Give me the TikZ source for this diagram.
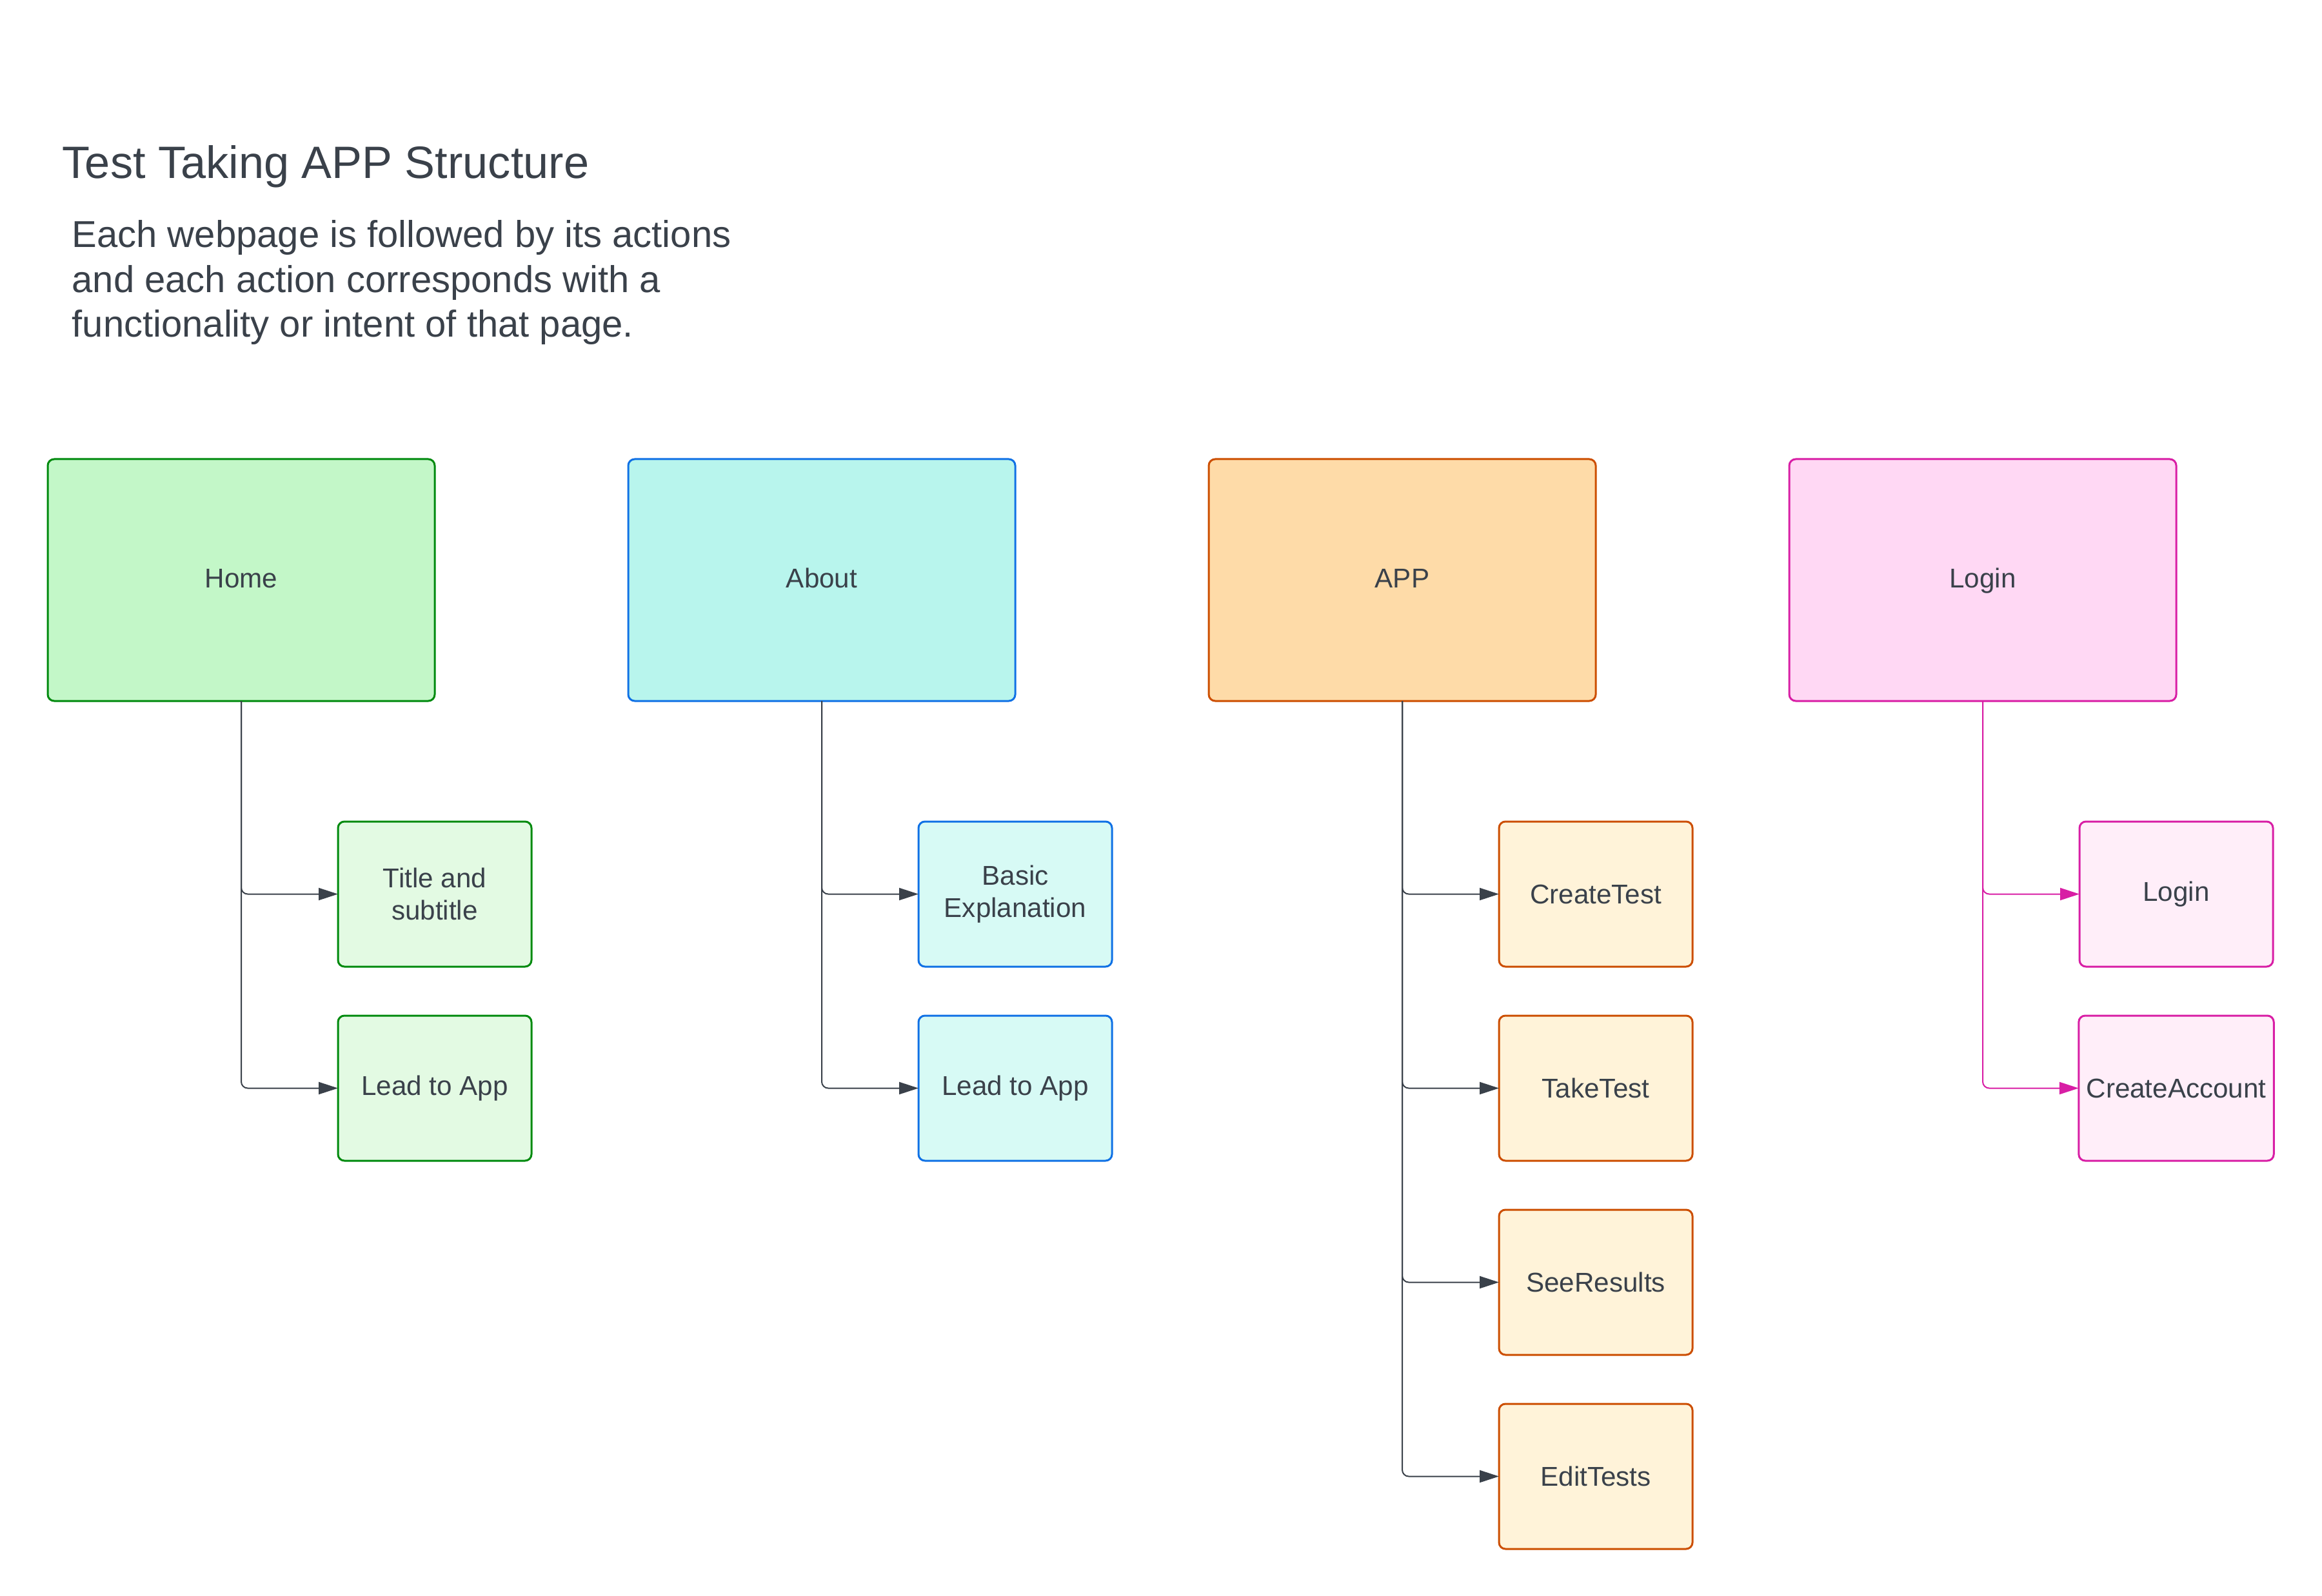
\documentclass[tikz,border=0pt]{standalone}
\usepackage{fontspec}
\setmainfont{Liberation Sans}
\usetikzlibrary{positioning,arrows.meta}

\definecolor{ink}{HTML}{3A414A}
\definecolor{homeline}{HTML}{008A0E}
\definecolor{homefill}{HTML}{C3F7C8}
\definecolor{homelight}{HTML}{E3FAE3}
\definecolor{aboutline}{HTML}{1071E5}
\definecolor{aboutfill}{HTML}{B8F5ED}
\definecolor{aboutlight}{HTML}{D7FAF5}
\definecolor{appline}{HTML}{CC4E00}
\definecolor{appfill}{HTML}{FEDBA8}
\definecolor{applight}{HTML}{FFF3D9}
\definecolor{loginline}{HTML}{D81EA5}
\definecolor{loginfill}{HTML}{FFD8F4}
\definecolor{loginlight}{HTML}{FFEEF9}

\begin{document}
\begin{tikzpicture}[
		page/.style={draw, rounded corners=0.1cm, line width=0.03cm, outer sep=0, minimum width=6cm, minimum height=3.75cm, text height=0.72em, text depth=0.02em, text=ink, font=\fontsize{12}{14.4}\selectfont},
		action/.style={draw, rounded corners=0.1cm, line width=0.03cm, outer sep=0, minimum width=3cm, minimum height=2.25cm, align=center, text=ink, font=\fontsize{12}{14.4}\selectfont},
		link/.style={-{Triangle[length=0.3cm, width=0.19cm]}, line width=0.02cm, rounded corners=0.1cm, color=ink},
		node distance=0.76cm]
			\useasboundingbox (0,0) rectangle (36,-24.75);

			\node[anchor=base west, inner sep=0, text=ink, font=\fontsize{20}{24}\selectfont] (title) at (0.96,-2.77) {Test Taking APP Structure};
			\node[anchor=base west, inner sep=0, align=left, text=ink, font=\fontsize{16.5}{19.8}\selectfont] (intro) at (1.11,-5.23) {Each webpage is followed by its actions\\and each action corresponds with a\\functionality or intent of that page.};

			% web pages
			\node[page, fill=homefill, draw=homeline] (home) at (3.74,-8.995) {Home};
			\node[page, fill=aboutfill, draw=aboutline, right=3cm of home] (about) {About};
			\node[page, fill=appfill, draw=appline, right=3cm of about] (app) {APP};
			\node[page, fill=loginfill, draw=loginline, right=3cm of app] (login) {Login};

			% actions
			\node[action, fill=homelight, draw=homeline, below=1.87cm of home.south east] (home1) {Title and\\subtitle};
			\node[action, fill=homelight, draw=homeline, below=of home1] (home2) {Lead to App};

			\node[action, fill=aboutlight, draw=aboutline, below=1.87cm of about.south east] (about1) {Basic\\Explanation};
			\node[action, fill=aboutlight, draw=aboutline, below=of about1] (about2) {Lead to App};

			\node[action, fill=applight, draw=appline, below=1.87cm of app.south east] (app1) {CreateTest};
			\node[action, fill=applight, draw=appline, below=of app1] (app2) {TakeTest};
			\node[action, fill=applight, draw=appline, below=of app2] (app3) {SeeResults};
			\node[action, fill=applight, draw=appline, below=of app3] (app4) {EditTests};

			\node[action, fill=loginlight, draw=loginline, below=1.87cm of login.south east] (login1) {Login};
			\node[action, fill=loginlight, draw=loginline, below=of login1] (login2) {CreateAccount};

			\foreach \from / \to in {home/home1,home/home2,about/about1,about/about2,app/app1,app/app2,app/app3,app/app4}
				\draw[link] (\from.south) |- (\to.west);

			\foreach \from / \to in {login/login1,login/login2}
				\draw[link, color=loginline] (\from.south) |- (\to.west);
		\end{tikzpicture}
\end{document}
